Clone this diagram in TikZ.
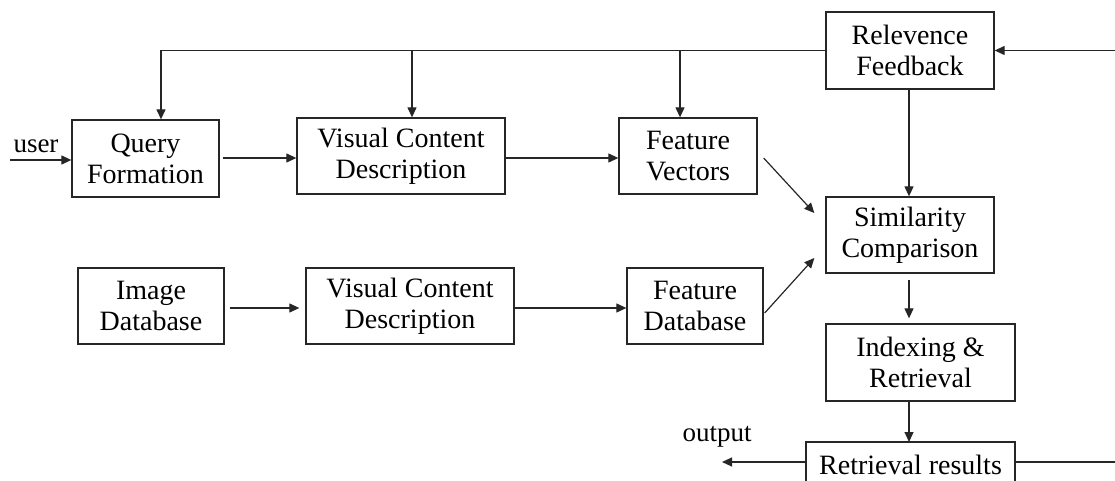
\documentclass[tikz,border=0pt]{standalone}
\usepackage{fontspec}
\setmainfont{Liberation Serif}
\usetikzlibrary{arrows.meta}
\begin{document}
\begin{tikzpicture}[x=1pt,y=-1pt,
  blk/.style={draw=black!85, line width=1.3pt, inner sep=0pt, align=center,
    font=\fontsize{28}{31}\selectfont},
  lbl/.style={inner sep=0pt, font=\fontsize{27}{31}\selectfont},
  arr/.style={draw=black!85, line width=1.2pt, -{Triangle[length=10pt,width=9pt]}},
  ln/.style={draw=black!85, line width=1.2pt}]
\useasboundingbox (0,0) rectangle (1115,481);
\clip (0,0) rectangle (1115,481);
% boxes
\node[blk, minimum width=147pt, minimum height=77pt] (qf) at (145.5,158.5) {Query\\Formation};
\node[blk, minimum width=208pt, minimum height=76pt] (vcd1) at (401,156) {Visual Content\\Description};
\node[blk, minimum width=138pt, minimum height=76pt] (fv) at (688,156) {Feature\\Vectors};
\node[blk, minimum width=168pt, minimum height=77pt] (rf) at (910,50.5) {Relevence\\Feedback};
\node[blk, minimum width=168pt, minimum height=76pt] (sim) at (910,235) {Similarity\\Comparison};
\node[blk, minimum width=146pt, minimum height=76pt] (idb) at (151,306) {Image\\Database};
\node[blk, minimum width=208pt, minimum height=76pt] (vcd2) at (410,306) {Visual Content\\Description};
\node[blk, minimum width=136pt, minimum height=76pt] (fdb) at (695,306) {Feature\\Database};
\node[blk, minimum width=189pt, minimum height=77pt] (idx) at (920.5,362.5) {Indexing \&\\Retrieval};
\draw[draw=black!85, line width=1.3pt] (806,442) rectangle (1015,495);
\node[inner sep=0pt, font=\fontsize{28}{31}\selectfont, minimum width=209pt] (rr) at (910.5,465) {Retrieval results};
% labels
\node[lbl] (user) at (36,146) {user};
\node[lbl] (outl) at (717,437) {output};
% free ends
\coordinate (uin) at (10,160);
\coordinate (rin) at (1118,50.5);
\coordinate (oout) at (722,462);
\coordinate (rout) at (1118,462);
\coordinate (rrtop) at (910.5,442);
% connectors
\draw[arr] (uin) -- (uin -| qf.west);
\draw[arr, shorten <=3pt] (qf.east |- 0,158) -- (vcd1.west |- 0,158);
\draw[arr] (vcd1.east |- 0,158) -- (fv.west |- 0,158);
\draw[arr] ([xshift=6pt,yshift=-2pt]fv.east) -- ([xshift=-11pt,yshift=22pt]sim.west);
\draw[arr] ([xshift=1pt,yshift=-7pt]fdb.east) -- ([xshift=-11pt,yshift=-23pt]sim.west);
\draw[arr] (rf.west) -| ([xshift=15.5pt]qf.north);
\draw[arr] ([xshift=11pt]vcd1.north |- rf.west) -- ([xshift=11pt]vcd1.north);
\draw[arr] ([xshift=-8pt]fv.north |- rf.west) -- ([xshift=-8pt]fv.north);
\draw[arr] (rin) -- (rf.east);
\draw[arr] ([xshift=-1pt]rf.south) -- ([xshift=-1pt]sim.north);
\draw[arr, shorten <=6pt, shorten >=5pt] ([xshift=-1pt]sim.south) -- ([xshift=-1pt]sim.south |- idx.north);
\draw[arr] ([xshift=-1pt]sim.south |- idx.south) -- ([xshift=-1pt]sim.south |- rrtop);
\draw[arr] (rr.west |- oout) -- (oout);
\draw[ln] (rr.east |- rout) -- (rout);
\draw[arr, shorten <=5pt, shorten >=6pt] (idb.east |- 0,308) -- (vcd2.west |- 0,308);
\draw[arr] (vcd2.east |- 0,308) -- (fdb.west |- 0,308);
\end{tikzpicture}
\end{document}
